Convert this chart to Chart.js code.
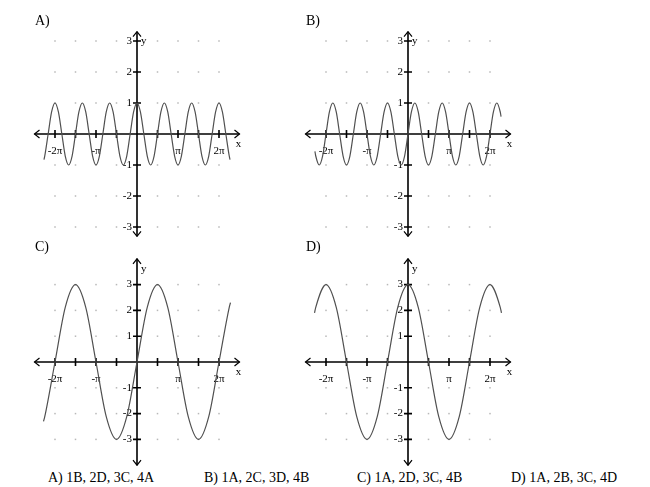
<!DOCTYPE html>
<html>
<head>
<meta charset="utf-8">
<script src="https://cdn.jsdelivr.net/npm/chart.js@4.4.1/dist/chart.umd.min.js"></script>
<style>
  body { margin: 0; background: #fff; }
  #lienzo { position: relative; width: 650px; height: 487px; font-family: "Liberation Serif", serif; color: #000; }
  canvas { position: absolute; }
  .etiqueta { position: absolute; font-size: 14px; line-height: 14px; }
  .respuesta { position: absolute; top: 471px; font-size: 14px; line-height: 14px; white-space: nowrap; }
</style>
</head>
<body>
<div id="lienzo"></div>
<script>
// Datos (x en unidades de π)
const etiquetasPaneles = ['A)', 'B)', 'C)', 'D)'];
const ticksX = [-2, -1.5, -1, -0.5, 0.5, 1, 1.5, 2];
const textosX = { '-2': '-2π', '-1': '-π', '1': 'π', '2': '2π' };
const ticksY = [-3, -2, -1, 1, 2, 3];

// paneles A y B (periodo corto)
const xRapida = [-2.27, -2.25, -2.167, -2.083, -2, -1.917, -1.833, -1.75, -1.667, -1.583, -1.5, -1.417, -1.333, -1.25,
  -1.167, -1.083, -1, -0.917, -0.833, -0.75, -0.667, -0.583, -0.5, -0.417, -0.333, -0.25, -0.167, -0.083, 0,
  0.083, 0.167, 0.25, 0.333, 0.417, 0.5, 0.583, 0.667, 0.75, 0.833, 0.917, 1, 1.083, 1.167, 1.25, 1.333,
  1.417, 1.5, 1.583, 1.667, 1.75, 1.833, 1.917, 2, 2.083, 2.167, 2.25, 2.27];
const yA = [-0.83, -0.71, 0, 0.71, 1, 0.71, 0, -0.71, -1, -0.71, 0, 0.71, 1, 0.71, 0, -0.71, -1, -0.71, 0, 0.71,
  1, 0.71, 0, -0.71, -1, -0.71, 0, 0.71, 1,
  0.71, 0, -0.71, -1, -0.71, 0, 0.71, 1, 0.71, 0, -0.71, -1, -0.71, 0, 0.71, 1, 0.71, 0, -0.71, -1, -0.71,
  0, 0.71, 1, 0.71, 0, -0.71, -0.83];
const yB = [-0.56, -0.71, -1, -0.71, 0, 0.71, 1, 0.71, 0, -0.71, -1, -0.71, 0, 0.71, 1, 0.71, 0, -0.71, -1, -0.71,
  0, 0.71, 1, 0.71, 0, -0.71, -1, -0.71, 0,
  0.71, 1, 0.71, 0, -0.71, -1, -0.71, 0, 0.71, 1, 0.71, 0, -0.71, -1, -0.71, 0, 0.71, 1, 0.71, 0, -0.71,
  -1, -0.71, 0, 0.71, 1, 0.71, 0.56];

// paneles C y D (periodo largo)
const xLenta = [-2.28, -2.25, -2, -1.75, -1.5, -1.25, -1, -0.75, -0.5, -0.25, 0, 0.25, 0.5, 0.75, 1, 1.25, 1.5, 1.75, 2, 2.25, 2.28];
const yC = [-2.3, -2.12, 0, 2.12, 3, 2.12, 0, -2.12, -3, -2.12, 0, 2.12, 3, 2.12, 0, -2.12, -3, -2.12, 0, 2.12, 2.3];
const yD = [1.9, 2.12, 3, 2.12, 0, -2.12, -3, -2.12, 0, 2.12, 3, 2.12, 0, -2.12, -3, -2.12, 0, 2.12, 3, 2.12, 1.9];

const respuestas = ['A) 1B, 2D, 3C, 4A', 'B) 1A, 2C, 3D, 4B', 'C) 1A, 2D, 3C, 4B', 'D) 1A, 2B, 3C, 4D'];

// Plugin: ejes cruzados, puntos de cuadrícula, flechas y etiquetas
const ejesPlugin = {
  id: 'ejes',
  beforeDatasetsDraw(chart) {
    const { ctx, scales: { x, y } } = chart;
    const ox = x.getPixelForValue(0), oy = y.getPixelForValue(0);
    ctx.save();

    // puntos de la cuadrícula
    ctx.fillStyle = '#b8b8b8';
    ticksX.forEach(tx => ticksY.forEach(ty => {
      ctx.fillRect(x.getPixelForValue(tx) - 0.75, y.getPixelForValue(ty) - 0.75, 1.5, 1.5);
    }));

    // ejes
    ctx.strokeStyle = '#000';
    ctx.lineWidth = 1.6;
    ctx.beginPath();
    ctx.moveTo(x.left, oy); ctx.lineTo(x.right, oy);
    ctx.moveTo(ox, y.top); ctx.lineTo(ox, y.bottom);
    ctx.stroke();

    // flechas
    ctx.lineWidth = 1.2;
    ctx.beginPath();
    ctx.moveTo(x.left + 5, oy - 4); ctx.lineTo(x.left, oy); ctx.lineTo(x.left + 5, oy + 4);
    ctx.moveTo(x.right - 5, oy - 4); ctx.lineTo(x.right, oy); ctx.lineTo(x.right - 5, oy + 4);
    ctx.moveTo(ox - 4, y.top + 5); ctx.lineTo(ox, y.top); ctx.lineTo(ox + 4, y.top + 5);
    ctx.moveTo(ox - 4, y.bottom - 5); ctx.lineTo(ox, y.bottom); ctx.lineTo(ox + 4, y.bottom - 5);
    ctx.stroke();

    // marcas
    ctx.lineWidth = 1.6;
    ctx.beginPath();
    ticksX.forEach(tx => {
      const px = x.getPixelForValue(tx);
      ctx.moveTo(px, oy - 4); ctx.lineTo(px, oy + 4);
    });
    ticksY.forEach(ty => {
      const py = y.getPixelForValue(ty);
      ctx.moveTo(ox - 4, py); ctx.lineTo(ox + 4, py);
    });
    ctx.stroke();

    // textos
    ctx.fillStyle = '#000';
    ctx.font = '11px "Liberation Serif", serif';
    ctx.textBaseline = 'middle';
    ctx.textAlign = 'right';
    ticksY.forEach(ty => ctx.fillText(String(ty), ox - 5, y.getPixelForValue(ty)));
    ctx.textAlign = 'center';
    ticksX.forEach(tx => {
      const t = textosX[String(tx)];
      if (t) ctx.fillText(t, x.getPixelForValue(tx), oy + 17);
    });
    ctx.fillText('x', x.right - 1, oy + 10);
    ctx.textAlign = 'left';
    ctx.fillText('y', ox + 4, oy - 93);
    ctx.restore();
  }
};

const lienzo = document.getElementById('lienzo');

function crearPanel(cfg) {
  const canvas = document.createElement('canvas');
  canvas.width = cfg.w; canvas.height = cfg.h;
  canvas.style.left = cfg.cx + 'px'; canvas.style.top = cfg.cy + 'px';
  canvas.style.width = cfg.w + 'px'; canvas.style.height = cfg.h + 'px';
  lienzo.appendChild(canvas);

  const xr = 2.5;
  const padding = {
    left: cfg.ox - xr * cfg.sx - cfg.cx,
    right: cfg.cx + cfg.w - (cfg.ox + xr * cfg.sx),
    top: cfg.oy - cfg.yr * cfg.sy - cfg.cy,
    bottom: cfg.cy + cfg.h - (cfg.oy + cfg.yr * cfg.sy)
  };

  new Chart(canvas.getContext('2d'), {
    type: 'line',
    data: {
      datasets: [{
        data: cfg.xs.map((v, i) => ({ x: v, y: cfg.ys[i] })),
        borderColor: '#505050',
        borderWidth: 1.2,
        pointRadius: 0,
        cubicInterpolationMode: 'monotone',
        fill: false
      }]
    },
    options: {
      responsive: false,
      animation: false,
      layout: { padding },
      plugins: { legend: { display: false }, tooltip: { enabled: false } },
      scales: {
        x: { type: 'linear', min: -xr, max: xr, display: false },
        y: { type: 'linear', min: -cfg.yr, max: cfg.yr, display: false }
      }
    },
    plugins: [ejesPlugin]
  });
}

crearPanel({ cx: 0, cy: 0, w: 270, h: 240, ox: 137, oy: 134, sx: 41, sy: 31, yr: 3.3, xs: xRapida, ys: yA });
crearPanel({ cx: 270, cy: 0, w: 270, h: 240, ox: 408, oy: 134, sx: 41, sy: 31, yr: 3.3, xs: xRapida, ys: yB });
crearPanel({ cx: 0, cy: 240, w: 270, h: 230, ox: 137, oy: 362, sx: 41, sy: 25.8, yr: 4, xs: xLenta, ys: yC });
crearPanel({ cx: 270, cy: 240, w: 270, h: 230, ox: 408, oy: 362, sx: 41, sy: 25.8, yr: 4, xs: xLenta, ys: yD });

// etiquetas de los paneles
const posEtiquetas = [[35, 14], [306, 14], [35, 240], [306, 240]];
etiquetasPaneles.forEach((t, i) => {
  const d = document.createElement('div');
  d.className = 'etiqueta';
  d.textContent = t;
  d.style.left = posEtiquetas[i][0] + 'px';
  d.style.top = posEtiquetas[i][1] + 'px';
  lienzo.appendChild(d);
});

// opciones de respuesta
const posRespuestas = [48, 204, 357, 511];
respuestas.forEach((t, i) => {
  const d = document.createElement('div');
  d.className = 'respuesta';
  d.textContent = t;
  d.style.left = posRespuestas[i] + 'px';
  lienzo.appendChild(d);
});
</script>
</body>
</html>
